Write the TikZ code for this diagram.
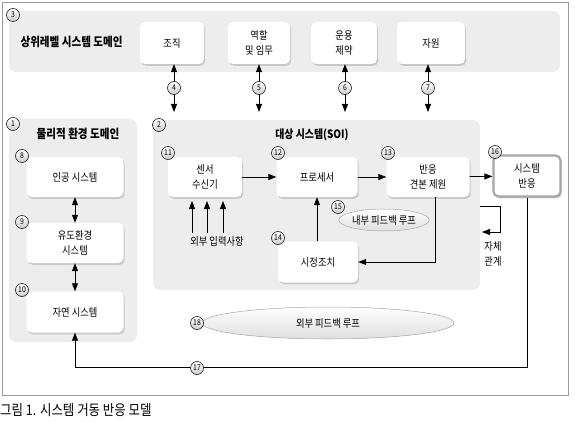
\documentclass[tikz,border=0pt]{standalone}
\usepackage{fontspec}
\setmainfont{Noto Sans CJK KR}[FakeStretch=0.86]
\usetikzlibrary{arrows.meta,shadows,calc,shapes.geometric}
\definecolor{panel}{HTML}{EDEDED}
\definecolor{frame}{HTML}{9A9A9A}
\tikzset{
  panelbox/.style={fill=panel,rounded corners=7pt,draw=none},
  wbox/.style={fill=white,rounded corners=5pt,draw=none,align=center,font=\fontsize{10.8}{15.5}\selectfont,
    drop shadow={shadow xshift=1.2pt,shadow yshift=-1.8pt,fill=gray!50,opacity=.8}},
  num/.style={circle,draw=black,line width=.5pt,inner sep=0pt,minimum size=13pt,
    top color=white,bottom color=gray!40,font=\fontsize{8}{8}\selectfont},
  arr/.style={line width=.8pt,-{Triangle[length=8pt,width=6pt]}},
  darr/.style={line width=.8pt,{Triangle[length=8pt,width=6pt]}-{Triangle[length=8pt,width=6pt]}},
  ttl/.style={font=\bfseries\fontsize{12.3}{14}\selectfont},
  lbl/.style={font=\fontsize{10.8}{15.5}\selectfont,align=center},
  loop/.style={ellipse,draw=gray!70,line width=.5pt,top color=white,bottom color=gray!25,
    font=\fontsize{10.8}{12}\selectfont,inner sep=0pt}
}
\begin{document}
\begin{tikzpicture}[x=1pt,y=-1pt]
\useasboundingbox (0,0) rectangle (575,422);
% outer frame
\draw[frame,line width=.8pt] (2,2) rectangle (568,395);
\node[anchor=west,font=\fontsize{14.5}{16}\selectfont,inner sep=0pt] (cap) at (0,410) {그림 1. 시스템 거동 반응 모델};
% panels
\fill[panelbox] (9,11) rectangle (560,72);
\fill[panelbox] (9,119) rectangle (137,342);
\fill[panelbox] (153,120) rectangle (480,290);
\node[num] (n3) at (13,15) {3};
\node[num] (n1) at (13,124) {1};
\node[num] (n2) at (159,125) {2};
\node[ttl,anchor=west] (t3) at (17,42) {상위레벨 시스템 도메인};
\node[ttl] (t1) at (78,134) {물리적 환경 도메인};
\node[font=\bfseries\fontsize{11.5}{13}\selectfont] (t2) at (312,135) {대상 시스템(SOI)};
% top boxes
\node[wbox,minimum width=64pt,minimum height=42pt] (org) at (172,43) {조직};
\node[wbox,minimum width=62pt,minimum height=42pt] (role) at (259,43) {역할\\및 임무};
\node[wbox,minimum width=66pt,minimum height=42pt] (cons) at (344,43) {운용\\제약};
\node[wbox,minimum width=68pt,minimum height=42pt] (res) at (431,43) {자원};
\coordinate (a4) at (174,112);
\coordinate (a5) at (259,112);
\coordinate (a6) at (345,112);
\coordinate (a7) at (428,112);
\draw[darr] (org.south -| a4) -- (a4);
\draw[darr] (role.south -| a5) -- (a5);
\draw[darr] (cons.south -| a6) -- (a6);
\draw[darr] (res.south -| a7) -- (a7);
\node[num] (n4) at (174,88) {4};
\node[num] (n5) at (259,88) {5};
\node[num] (n6) at (345,88) {6};
\node[num] (n7) at (428,88) {7};
% left boxes
\node[wbox,minimum width=97pt,minimum height=40pt] (art) at (75,177) {인공 시스템};
\node[wbox,minimum width=97pt,minimum height=40pt] (ind) at (75,243) {유도환경\\시스템};
\node[wbox,minimum width=97pt,minimum height=41pt] (nat) at (75,312) {자연 시스템};
\node[num] (n8) at (22,156) {8};
\node[num] (n9) at (22,222) {9};
\node[num] (n10) at (22,290) {10};
\draw[darr] (art) -- (ind);
\draw[darr] (ind) -- (nat);
% center boxes
\node[wbox,minimum width=74pt,minimum height=40pt] (sens) at (205,177) {센서\\수신기};
\node[wbox,minimum width=81pt,minimum height=40pt] (proc) at (317,177) {프로세서};
\node[wbox,minimum width=83pt,minimum height=40pt] (resp) at (428,177) {반응\\견본 제원};
\node[wbox,minimum width=80pt,minimum height=41pt] (corr) at (318,262) {시정조치};
\node[wbox,draw=gray!70,line width=2.2pt,minimum width=67pt,minimum height=41pt] (sys) at (527,176) {시스템\\반응};
\node[num] (n11) at (168,153) {11};
\node[num] (n12) at (278,153) {12};
\node[num] (n13) at (388,153) {13};
\node[num] (n14) at (278,238) {14};
\node[num] (n16) at (495,152) {16};
\draw[arr] (sens) -- (proc);
\draw[arr] (proc) -- (resp);
\draw[arr] (resp) -- (sys);
\draw[arr] (corr.north -| proc) -- (proc.south);
\draw[arr] ($(resp.south)+(7,0)$) |- (corr.east);
% external inputs
\node[lbl] (ext) at (217,241) {외부 입력사항};
\coordinate (e1) at (192,201);
\coordinate (e2) at (207,201);
\coordinate (e3) at (223,201);
\draw[arr] (e1 |- ext.north) -- (e1);
\draw[arr] (e2 |- ext.north) -- (e2);
\draw[arr] (e3 |- ext.north) -- (e3);
% internal loop
\node[loop,minimum width=86pt,minimum height=22pt] (il) at (384,220) {내부 피드백 루프};
\node[num] (n15) at (338,207) {15};
% self relation
\coordinate (s1) at (480,206);
\coordinate (s2) at (482,232);
\draw[arr] (s1) -- (500,206) -- (500,232) -- (s2);
\node[lbl] (self) at (493,254) {자체\\관계};
% external loop
\node[loop,minimum width=252pt,minimum height=32pt] (el) at (328,323) {외부 피드백 루프};
\node[num] (n18) at (197,323) {18};
\draw[arr] (sys.south) -- ++(0,170) -| (nat.south);
\node[num] (n17) at (197,368) {17};
\end{tikzpicture}
\end{document}
